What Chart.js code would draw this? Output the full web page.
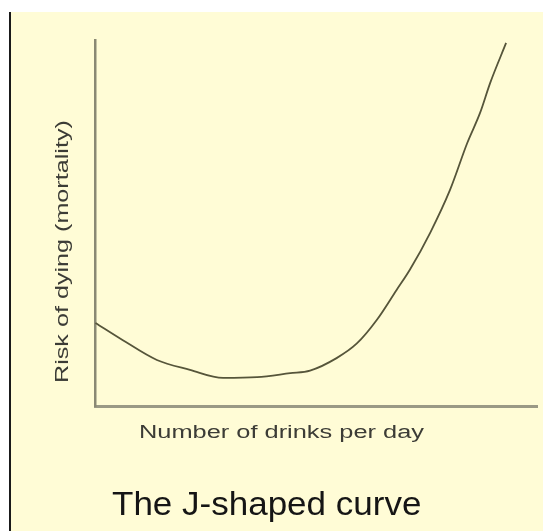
<!DOCTYPE html>
<html>
<head>
<meta charset="utf-8">
<title>The J-shaped curve</title>
<script src="https://cdn.jsdelivr.net/npm/chart.js@4.4.1/dist/chart.umd.min.js"></script>
<style>
    html, body {
        margin: 0;
        padding: 0;
        background: #ffffff;
        width: 543px;
        height: 531px;
        overflow: hidden;
        font-family: "Liberation Sans", Arial, sans-serif;
    }
    #panel {
        position: absolute;
        left: 9px;
        top: 12px;
        width: 532px;
        height: 519px;
        border-left: 2px solid #1a1a1a;
        background: #fffcd6;
    }
    #chartBox {
        position: absolute;
        left: 0;
        top: 0;
        width: 532px;
        height: 519px;
    }
    .label {
        position: absolute;
        white-space: nowrap;
        line-height: 1;
        transform-origin: 0 0;
    }
    /* 元画像は横に引き伸ばされた文字なので scaleX で合わせる */
    #yLabel {
        left: 52.6px;
        top: 383px;
        font-size: 18.5px;
        color: #3c3c36;
        transform: rotate(-90deg) scaleX(1.36);
    }
    #xLabel {
        left: 138.6px;
        top: 422.8px;
        font-size: 18px;
        color: #3c3c36;
        transform: scaleX(1.41);
    }
    #mainTitle {
        left: 112.3px;
        top: 487.5px;
        font-size: 32.5px;
        color: #151515;
        transform: scaleX(1.077);
    }
</style>
</head>
<body>
<div id="panel">
    <div id="chartBox"><canvas id="jCurveChart"></canvas></div>
</div>
<div class="label" id="yLabel">Risk of dying (mortality)</div>
<div class="label" id="xLabel">Number of drinks per day</div>
<div class="label" id="mainTitle">The J-shaped curve</div>

<script>
// 読み取った曲線の値（x: 1日の飲酒量, y: 死亡リスク, 目盛なしの相対値）
const drinks = [0, 0.62, 1.39, 2.14, 2.89, 3.66, 4.41, 4.86, 5.46, 5.92, 6.37, 6.82, 7.12, 7.58, 8.03, 8.42, 8.71, 8.94, 9.30];
const risk = [22.8, 18.1, 12.7, 10.0, 7.8, 8.0, 9.1, 9.8, 13.2, 17.2, 23.6, 31.8, 37.3, 47.4, 59.1, 71.9, 80.1, 88.3, 99.2];

// 軸の範囲
const xRange = [0, 10];
const yRange = [0, 100];

let jCurveChart;

document.addEventListener('DOMContentLoaded', function() {
    createChart();
});

function createChart() {
    const ctx = document.getElementById('jCurveChart').getContext('2d');
    jCurveChart = new Chart(ctx, {
        type: 'line',
        data: {
            datasets: [{
                label: 'Risk of dying',
                data: drinks.map((d, i) => ({x: d, y: risk[i]})),
                borderColor: '#56553a',
                borderWidth: 1.8,
                pointRadius: 0,
                fill: false,
                cubicInterpolationMode: 'monotone',
                clip: false
            }]
        },
        options: {
            responsive: true,
            maintainAspectRatio: false,
            animation: false,
            layout: {
                padding: {left: 84.5, top: 28, right: 6, bottom: 124.5}
            },
            plugins: {
                legend: {display: false},
                tooltip: {enabled: false},
                title: {display: false}
            },
            scales: {
                x: {
                    type: 'linear',
                    min: xRange[0],
                    max: xRange[1],
                    ticks: {display: false},
                    grid: {display: false, drawTicks: false},
                    border: {display: true, color: '#9a9985', width: 3}
                },
                y: {
                    type: 'linear',
                    min: yRange[0],
                    max: yRange[1],
                    ticks: {display: false},
                    grid: {display: false, drawTicks: false},
                    border: {display: true, color: '#8a8974', width: 2.5}
                }
            }
        }
    });
}
</script>
</body>
</html>
